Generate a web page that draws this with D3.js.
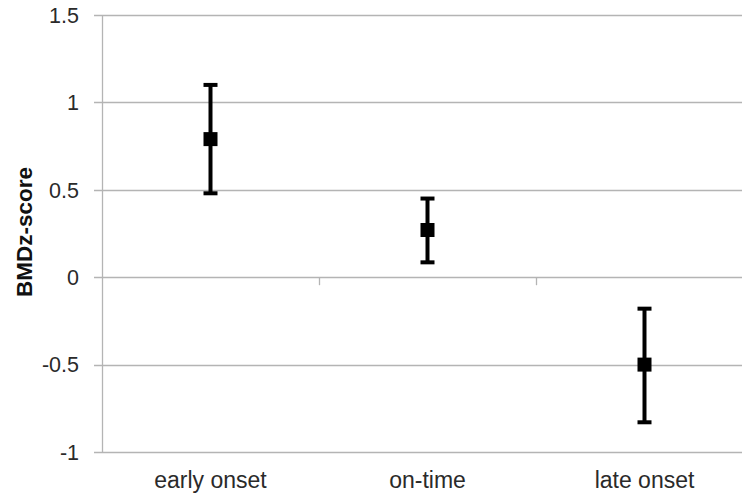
<!DOCTYPE html>
<html>
<head>
<meta charset="utf-8">
<script src="https://cdn.jsdelivr.net/npm/d3@7"></script>
<style>
  body { margin: 0; background: #fff; }
  svg { display: block; font-family: "Liberation Sans", Arial, sans-serif; }
</style>
</head>
<body>
<div id="chart"></div>
<script>
const categories = ['early onset', 'on-time', 'late onset'];
const means = [0.79, 0.27, -0.50];
const upper = [1.10, 0.45, -0.18];
const lower = [0.48, 0.085, -0.83];
const yTicks = [-1, -0.5, 0, 0.5, 1, 1.5];

const width = 742;
const height = 501;

const svg = d3.select('#chart')
  .append('svg')
  .attr('width', width)
  .attr('height', height);

const xScale = d3.scaleBand()
  .domain(categories)
  .range([102, 753])
  .paddingInner(0)
  .paddingOuter(0);

const yScale = d3.scaleLinear().domain([-1, 1.5]).range([452, 15]);

// gridlines
svg.append('g')
  .selectAll('line')
  .data(yTicks)
  .join('line')
  .attr('x1', 94)
  .attr('x2', width)
  .attr('y1', (d) => Math.round(yScale(d)) + 0.5)
  .attr('y2', (d) => Math.round(yScale(d)) + 0.5)
  .attr('stroke', '#b4b4b4')
  .attr('stroke-width', 1.3);

// left axis line
svg.append('line')
  .attr('x1', 102.5).attr('x2', 102.5)
  .attr('y1', yScale(1.5)).attr('y2', yScale(-1))
  .attr('stroke', '#b4b4b4')
  .attr('stroke-width', 1.3);

// y tick labels
svg.append('g')
  .selectAll('text')
  .data(yTicks)
  .join('text')
  .attr('x', 79)
  .attr('y', (d) => yScale(d))
  .attr('dy', '0.36em')
  .attr('text-anchor', 'end')
  .attr('font-size', 21.5)
  .attr('fill', '#2a2a2a')
  .text((d) => String(d));

// category tick marks on zero line
const bounds = categories.map((c) => xScale(c) + xScale.bandwidth());
svg.append('g')
  .selectAll('line')
  .data(bounds.slice(0, 2))
  .join('line')
  .attr('x1', (d) => Math.round(d) + 0.5)
  .attr('x2', (d) => Math.round(d) + 0.5)
  .attr('y1', yScale(0))
  .attr('y2', yScale(0) + 8)
  .attr('stroke', '#b4b4b4')
  .attr('stroke-width', 1.3);

// category labels
svg.append('g')
  .selectAll('text')
  .data(categories)
  .join('text')
  .attr('x', (d) => xScale(d) + xScale.bandwidth() / 2)
  .attr('y', 488)
  .attr('text-anchor', 'middle')
  .attr('font-size', 23)
  .attr('fill', '#2a2a2a')
  .text((d) => d);

// y axis title
svg.append('text')
  .attr('transform', `translate(32, 232) rotate(-90)`)
  .attr('text-anchor', 'middle')
  .attr('font-size', 22.5)
  .attr('font-weight', 'bold')
  .attr('fill', '#111')
  .text('BMDz-score');

// error bars
const points = categories.map((c, i) => ({ c, m: means[i], hi: upper[i], lo: lower[i] }));
const cx = (d) => xScale(d.c) + xScale.bandwidth() / 2;
const errs = svg.append('g').attr('stroke', '#000').attr('stroke-width', 4);

errs.selectAll('.stem')
  .data(points)
  .join('line')
  .attr('x1', cx)
  .attr('x2', cx)
  .attr('y1', (d) => yScale(d.hi))
  .attr('y2', (d) => yScale(d.lo));

errs.selectAll('.capHi')
  .data(points)
  .join('line')
  .attr('x1', (d) => cx(d) - 7)
  .attr('x2', (d) => cx(d) + 7)
  .attr('y1', (d) => yScale(d.hi))
  .attr('y2', (d) => yScale(d.hi));

errs.selectAll('.capLo')
  .data(points)
  .join('line')
  .attr('x1', (d) => cx(d) - 7)
  .attr('x2', (d) => cx(d) + 7)
  .attr('y1', (d) => yScale(d.lo))
  .attr('y2', (d) => yScale(d.lo));

// markers
svg.append('g')
  .selectAll('rect')
  .data(points)
  .join('rect')
  .attr('x', (d) => cx(d) - 7)
  .attr('y', (d) => yScale(d.m) - 7)
  .attr('width', 14)
  .attr('height', 14)
  .attr('fill', '#000');
</script>
</body>
</html>
